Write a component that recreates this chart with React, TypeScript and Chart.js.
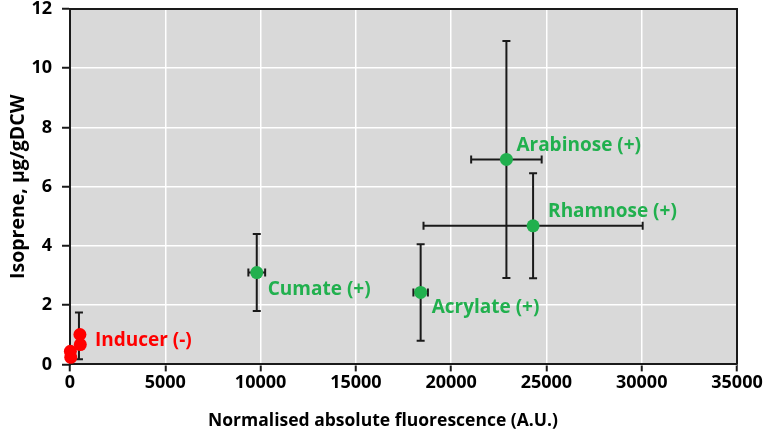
import React, { useEffect, useRef } from "react";
import { Chart, registerables } from "chart.js";

Chart.register(...registerables);

// Induced (+) samples
const inducedLabels = ["Cumate (+)", "Acrylate (+)", "Arabinose (+)", "Rhamnose (+)"];
const inducedX = [9800, 18400, 22900, 24300];
const inducedY = [3.1, 2.43, 6.92, 4.68];
const inducedXErr = [440, 380, 1850, 5750];
const inducedYErr = [1.3, 1.63, 4.0, 1.77];

// Uninduced (-) samples
const inducerLabel = "Inducer (-)";
const uninducedX = [20, 40, 520, 540];
const uninducedY = [0.44, 0.24, 1.01, 0.67];
const uninducedErrX = [470];
const uninducedErrY = [0.96];
const uninducedErrYErr = [0.79];
const uninducedErrXErr = [0];

// Axis
const xTicks = [0, 5000, 10000, 15000, 20000, 25000, 30000, 35000];
const yTicks = [0, 2, 4, 6, 8, 10, 12];
const xTitle = "Normalised absolute fluorescence (A.U.)";
const yTitle = "Isoprene, µg/gDCW";

const GREEN = "#21b04e";
const RED = "#ff0000";
const FONT = "'Open Sans', 'DejaVu Sans', sans-serif";

// label pixel offsets from the anchor point (style, not data)
const inducedLabelOffsets = [
  [11, 17],
  [11, 15],
  [10, -14],
  [15, -14],
];
const inducerLabelOffset = [15, 6];

export default function App() {
  const ref = useRef<HTMLCanvasElement | null>(null);

  useEffect(() => {
    const canvas = ref.current;
    if (!canvas) return;

    const bgPlugin = {
      id: "plotBg",
      beforeDraw(chart: any) {
        const { ctx, chartArea: a } = chart;
        ctx.save();
        ctx.fillStyle = "#d9d9d9";
        ctx.fillRect(a.left, a.top, a.right - a.left, a.bottom - a.top);
        ctx.restore();
      },
    };

    const errorPlugin = {
      id: "errBars",
      beforeDatasetsDraw(chart: any) {
        const { ctx } = chart;
        const xs = chart.scales.x;
        const ys = chart.scales.y;
        const cap = 4;
        const drawErr = (x: number, y: number, ex: number, ey: number) => {
          const px = xs.getPixelForValue(x);
          const py = ys.getPixelForValue(y);
          ctx.beginPath();
          if (ey > 0) {
            const t = ys.getPixelForValue(y + ey);
            const b = ys.getPixelForValue(y - ey);
            ctx.moveTo(px, t);
            ctx.lineTo(px, b);
            ctx.moveTo(px - cap, t);
            ctx.lineTo(px + cap, t);
            ctx.moveTo(px - cap, b);
            ctx.lineTo(px + cap, b);
          }
          if (ex > 0) {
            const l = xs.getPixelForValue(x - ex);
            const r = xs.getPixelForValue(x + ex);
            ctx.moveTo(l, py);
            ctx.lineTo(r, py);
            ctx.moveTo(l, py - cap);
            ctx.lineTo(l, py + cap);
            ctx.moveTo(r, py - cap);
            ctx.lineTo(r, py + cap);
          }
          ctx.stroke();
        };
        ctx.save();
        ctx.strokeStyle = "#1a1a1a";
        ctx.lineWidth = 2;
        for (let i = 0; i < inducedX.length; i++) {
          drawErr(inducedX[i], inducedY[i], inducedXErr[i], inducedYErr[i]);
        }
        for (let i = 0; i < uninducedErrX.length; i++) {
          drawErr(uninducedErrX[i], uninducedErrY[i], uninducedErrXErr[i], uninducedErrYErr[i]);
        }
        ctx.restore();
      },
    };

    const labelPlugin = {
      id: "ptLabels",
      afterDatasetsDraw(chart: any) {
        const { ctx } = chart;
        const xs = chart.scales.x;
        const ys = chart.scales.y;
        ctx.save();
        ctx.font = `bold 19px ${FONT}`;
        ctx.textBaseline = "middle";
        ctx.textAlign = "left";
        ctx.fillStyle = GREEN;
        for (let i = 0; i < inducedLabels.length; i++) {
          const px = xs.getPixelForValue(inducedX[i]);
          const py = ys.getPixelForValue(inducedY[i]);
          ctx.fillText(inducedLabels[i], px + inducedLabelOffsets[i][0], py + inducedLabelOffsets[i][1]);
        }
        ctx.fillStyle = RED;
        const ax = xs.getPixelForValue(uninducedX[2]);
        const ay = ys.getPixelForValue(uninducedY[2]);
        ctx.fillText(inducerLabel, ax + inducerLabelOffset[0], ay + inducerLabelOffset[1]);
        // frame
        const a = chart.chartArea;
        ctx.strokeStyle = "#1a1a1a";
        ctx.lineWidth = 2;
        ctx.beginPath();
        ctx.moveTo(a.left, a.top);
        ctx.lineTo(a.right, a.top);
        ctx.lineTo(a.right, a.bottom);
        ctx.stroke();
        // x-axis title, centred on the whole figure
        ctx.fillStyle = "#000";
        ctx.font = `bold 17.5px ${FONT}`;
        ctx.textAlign = "center";
        ctx.fillText(xTitle, chart.width / 2, chart.height - 16);
        ctx.restore();
      },
    };

    const chart = new Chart(canvas, {
      type: "scatter",
      data: {
        datasets: [
          {
            label: "Uninduced",
            data: uninducedX.map((x, i) => ({ x, y: uninducedY[i] })),
            backgroundColor: RED,
            borderColor: RED,
            pointRadius: 6.5,
            pointBorderWidth: 0,
            clip: false,
          },
          {
            label: "Induced",
            data: inducedX.map((x, i) => ({ x, y: inducedY[i] })),
            backgroundColor: GREEN,
            borderColor: GREEN,
            pointRadius: 6.5,
            pointBorderWidth: 0,
          },
        ],
      },
      options: {
        animation: false,
        responsive: false,
        maintainAspectRatio: false,
        layout: { padding: { top: 0, right: 0, left: 7, bottom: 42 } },
        plugins: {
          legend: { display: false },
          tooltip: { enabled: false },
        },
        scales: {
          x: {
            type: "linear",
            min: 0,
            max: 35000,
            afterBuildTicks: (axis: any) => {
              axis.ticks = xTicks.map((v) => ({ value: v }));
            },
            afterFit: (s: any) => {
              s.paddingRight = 29;
            },
            grid: {
              color: "#ffffff",
              lineWidth: 1.5,
              tickColor: "#1a1a1a",
              tickLength: 7,
              tickWidth: 2,
            },
            border: { color: "#1a1a1a", width: 2 },
            ticks: {
              color: "#000",
              font: { family: FONT, size: 18, weight: "bold" },
              maxRotation: 0,
              padding: 1,
              callback: (v: any) => String(v),
            },
            title: { display: false },
          },
          y: {
            type: "linear",
            min: 0,
            max: 12,
            afterBuildTicks: (axis: any) => {
              axis.ticks = yTicks.map((v) => ({ value: v }));
            },
            afterFit: (s: any) => {
              s.paddingTop = 9;
              s.width = 63;
            },
            grid: {
              color: "#ffffff",
              lineWidth: 1.5,
              tickColor: "#1a1a1a",
              tickLength: 8,
              tickWidth: 2,
            },
            border: { color: "#1a1a1a", width: 2 },
            ticks: {
              color: "#000",
              font: { family: FONT, size: 18, weight: "bold" },
              padding: 10,
            },
            title: {
              display: true,
              text: yTitle,
              color: "#000",
              font: { family: FONT, size: 19.5, weight: "bold" },
              padding: { top: 0, bottom: 4 },
            },
          },
        },
      },
      plugins: [bgPlugin, errorPlugin, labelPlugin],
    });

    return () => chart.destroy();
  }, []);

  return (
    <div style={{ position: "fixed", left: 0, top: 0, width: 766, height: 437, background: "#fff" }}>
      <canvas ref={ref} width={766} height={437} style={{ display: "block", width: 766, height: 437 }} />
    </div>
  );
}
